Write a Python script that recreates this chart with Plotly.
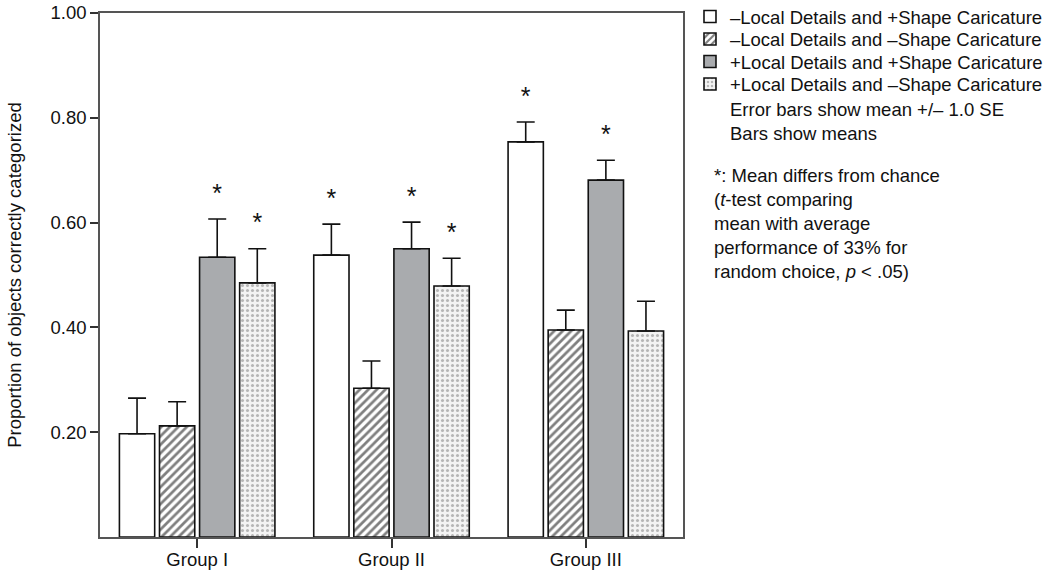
import plotly.graph_objects as go

groups = ["Group I", "Group II", "Group III"]
series_names = [
    "\u2013Local Details and +Shape Caricature",
    "\u2013Local Details and \u2013Shape Caricature",
    "+Local Details and +Shape Caricature",
    "+Local Details and \u2013Shape Caricature",
]
means = [
    [0.197, 0.538, 0.754],
    [0.212, 0.284, 0.395],
    [0.534, 0.550, 0.681],
    [0.485, 0.479, 0.393],
]
se = [
    [0.068, 0.059, 0.038],
    [0.046, 0.052, 0.038],
    [0.073, 0.051, 0.038],
    [0.065, 0.053, 0.057],
]
significant = [
    [False, True, True],
    [False, False, False],
    [True, True, True],
    [True, True, False],
]

FONT = "Liberation Sans, Arial, sans-serif"
FS = 18.5

styles = [
    dict(color="white", pattern=None),
    dict(color="white", pattern=dict(shape="/", fgcolor="#000", bgcolor="white", size=6, solidity=0.45)),
    dict(color="#a9abae", pattern=None),
    dict(color="#f2f2f2", pattern=dict(shape=".", fgcolor="#777777", bgcolor="#f3f3f3", size=5, solidity=0.3)),
]

legend_ids = ["legend", "legend2", "legend3", "legend4"]
legend_rows_px = [17, 39.5, 62, 84.5]

fig = go.Figure()
for i, name in enumerate(series_names):
    marker = dict(color=styles[i]["color"], line=dict(color="#111", width=1.6))
    if styles[i]["pattern"] is not None:
        marker["pattern"] = styles[i]["pattern"]
    fig.add_trace(go.Bar(
        x=groups, y=means[i], name=name, marker=marker,
        offsetgroup=str(i), legend=legend_ids[i],
        error_y=dict(type="data", symmetric=False, array=se[i], arrayminus=[0] * 3,
                     color="#111", thickness=1.6, width=9),
    ))

for i in range(4):
    ys = [means[i][g] + se[i][g] + 0.045 if significant[i][g] else None for g in range(3)]
    fig.add_trace(go.Scatter(
        x=groups, y=ys, mode="text", text=["*" if s else "" for s in significant[i]],
        textfont=dict(size=25, color="#111", family=FONT),
        offsetgroup=str(i), showlegend=False, hoverinfo="skip",
    ))

legend_layout = {}
for lid, py in zip(legend_ids, legend_rows_px):
    legend_layout[lid] = dict(x=1.012, y=(537 - py) / 524, xanchor="left", yanchor="middle",
                              font=dict(size=FS), itemwidth=30,
                              bgcolor="rgba(0,0,0,0)")

fig.update_layout(
    width=1050, height=570,
    margin=dict(l=100, r=367, t=13, b=33, autoexpand=False),
    paper_bgcolor="white", plot_bgcolor="white",
    barmode="group", bargap=0.175, bargroupgap=0.12,
    scattermode="group", scattergap=0.175,
    font=dict(family=FONT, size=FS, color="#111"),
    showlegend=True,
    yaxis=dict(range=[0, 1.0], tickvals=[0.2, 0.4, 0.6, 0.8, 1.0],
               ticktext=["0.20", "0.40", "0.60", "0.80", "1.00"],
               ticks="outside", ticklen=8, tickwidth=2, tickcolor="#333",
               showline=True, linecolor="#555", linewidth=1.5, mirror=True,
               showgrid=False, zeroline=False, automargin=False,
               tickfont=dict(size=FS),
               title=dict(text="Proportion of objects correctly categorized", standoff=24,
                          font=dict(size=FS))),
    xaxis=dict(ticks="outside", ticklen=9, tickwidth=2, tickcolor="#333",
               showline=True, linecolor="#555", linewidth=1.5, mirror=True,
               showgrid=False, automargin=False, tickfont=dict(size=FS),
               ticklabelstandoff=-4),
    **legend_layout,
)

fig.add_annotation(
    xref="paper", yref="paper", x=1.078, y=(537 - 97) / 524, xanchor="left", yanchor="top",
    text="Error bars show mean +/\u2013 1.0 SE<br>Bars show means", align="left",
    showarrow=False, font=dict(size=FS),
)
fig.add_annotation(
    xref="paper", yref="paper", x=1.049, y=(537 - 163) / 524, xanchor="left", yanchor="top",
    text="*: Mean differs from chance<br>(<i>t</i>-test comparing<br>mean with average<br>"
         "performance of 33% for<br>random choice, <i>p</i> &lt; .05)",
    align="left", showarrow=False, font=dict(size=FS),
)

fig.write_html("out.html", config={"displayModeBar": False},
               post_script="document.body.style.margin='0px';")
